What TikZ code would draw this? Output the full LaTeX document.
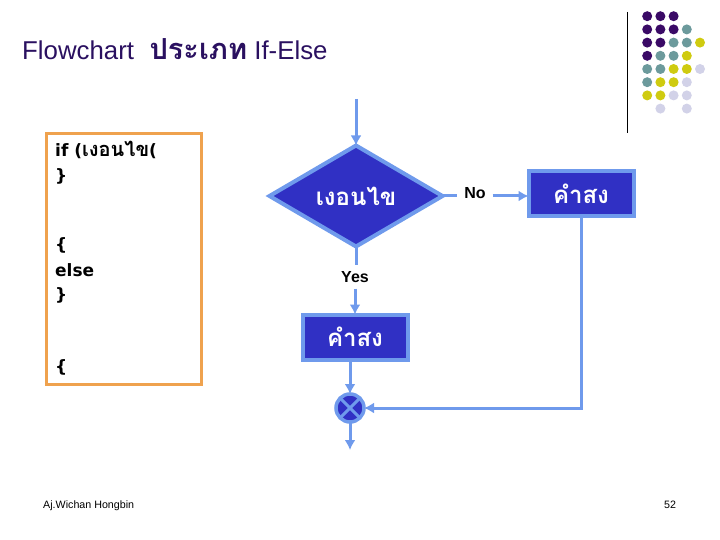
\documentclass[tikz,border=0pt]{standalone}
\usepackage{fontspec}
\setmainfont{Liberation Sans}
\newfontfamily\thaifont[Script=Thai]{Loma}
\newfontfamily\codefont{DejaVu Sans}
\usetikzlibrary{arrows.meta,shapes.geometric}
\definecolor{flowfill}{HTML}{3030C4}
\definecolor{flowline}{HTML}{6F9AEC}
\definecolor{framecol}{HTML}{EFA24E}
\definecolor{titlecol}{HTML}{2A1060}
\definecolor{dotP}{HTML}{3A0A66}
\definecolor{dotT}{HTML}{6C9A9C}
\definecolor{dotY}{HTML}{CFCB10}
\definecolor{dotL}{HTML}{D2D2E8}
\tikzset{
  flowarrow/.style={draw=flowline, line width=3pt, -{Latex[length=10pt,width=11pt]}},
  flowlink/.style={draw=flowline, line width=3pt},
  stepbox/.style={draw=flowline, fill=flowfill, line width=4pt, outer sep=0pt, text=white, minimum width=105pt, minimum height=45pt, inner sep=0pt, font=\thaifont\bfseries\fontsize{24}{26}\selectfont},
  codeline/.style={anchor=base west, inner sep=0pt, font=\codefont\bfseries\fontsize{17}{19}\selectfont},
  flowlabel/.style={inner sep=0pt, outer xsep=7pt, outer ysep=6pt, font=\bfseries\fontsize{16}{18}\selectfont},
  footline/.style={inner sep=0pt, anchor=base west, font=\fontsize{10.7}{12}\selectfont},
}
\begin{document}
\begin{tikzpicture}[x=1pt, y=-1pt]
\useasboundingbox (0,0) rectangle (720,540);

% Title
\node[anchor=base west, inner sep=0pt, text=titlecol, font=\fontsize{25.8}{28}\selectfont] (title) at (22,60)
  {Flowchart\hspace{0.6em}{\thaifont\bfseries\fontsize{29}{32}\selectfont ประเภท} If-Else};

% Corner decoration
\draw[line width=1pt] (627,12) -- (627,133);
\foreach \col/\row/\tone in {1/1/dotP,2/1/dotP,3/1/dotP,
    1/2/dotP,2/2/dotP,3/2/dotP,4/2/dotT,
    1/3/dotP,2/3/dotP,3/3/dotT,4/3/dotT,5/3/dotY,
    1/4/dotP,2/4/dotT,3/4/dotT,4/4/dotY,
    1/5/dotT,2/5/dotT,3/5/dotY,4/5/dotY,5/5/dotL,
    1/6/dotT,2/6/dotY,3/6/dotY,4/6/dotL,
    1/7/dotY,2/7/dotY,3/7/dotL,4/7/dotL,
    2/8/dotL,4/8/dotL}
  \fill[\tone] ({634+13.2*\col},{3+13.2*\row}) circle (5);

% Code frame
\draw[framecol, line width=3pt] (46,134) rectangle (201,384);
\node[codeline] (ifline) at (55,157) {if ({\thaifont\fontsize{20}{22}\selectfont เงอนไข}(};
\node[codeline] (closeA) at (55,182) {\}};
\node[codeline] (openA) at (55,250) {\{};
\node[codeline] (elseline) at (55,276) {else};
\node[codeline] (closeB) at (55,300) {\}};
\node[codeline] (openB) at (55,372) {\{};

% Flowchart nodes
\coordinate (start) at (356,99);
\node[diamond, draw=flowline, fill=flowfill, line width=4pt, outer sep=0pt, text=white, inner sep=0pt,
  aspect=1.75, minimum width=173pt, minimum height=101pt,
  font=\thaifont\bfseries\fontsize{24}{26}\selectfont] (cond) at (356,196) {เงอนไข};
\node[flowlabel] (nolabel) at (475,193) {No};
\node[flowlabel] (yeslabel) at (355,277) {Yes};
\node[stepbox] (stepR) at (581,194) {คำสง};
\node[stepbox] (stepL) at (355,337) {คำสง};
\node[circle, draw=flowline, fill=flowfill, line width=3.5pt, outer sep=0pt, minimum size=28pt, inner sep=0pt] (merge) at (350,408) {};
\coordinate (finish) at (350,450);

% Connectors
\draw[flowarrow] (start) -- (cond.north);
\draw[flowlink] (cond.east) -- (cond.east -| nolabel.west);
\draw[flowarrow] (nolabel.east |- cond.east) -- (stepR.west |- cond.east);
\draw[flowlink] (cond.south) -- (cond.south |- yeslabel.north);
\draw[flowarrow] (yeslabel.south) -- (stepL.north);
\draw[flowarrow] (stepL.south -| merge.north) -- (merge.north);
\draw[flowarrow] (stepR.south) |- (merge.east);
\draw[flowarrow] (merge.south) -- (finish);

% Cross in the merge point
\draw[flowline, line width=3pt] (merge.north west) -- (merge.south east);
\draw[flowline, line width=3pt] (merge.north east) -- (merge.south west);

% Footer
\node[footline] (author) at (43,508) {Aj.Wichan Hongbin};
\node[footline] (pagenum) at (664,508) {52};

\end{tikzpicture}
\end{document}
